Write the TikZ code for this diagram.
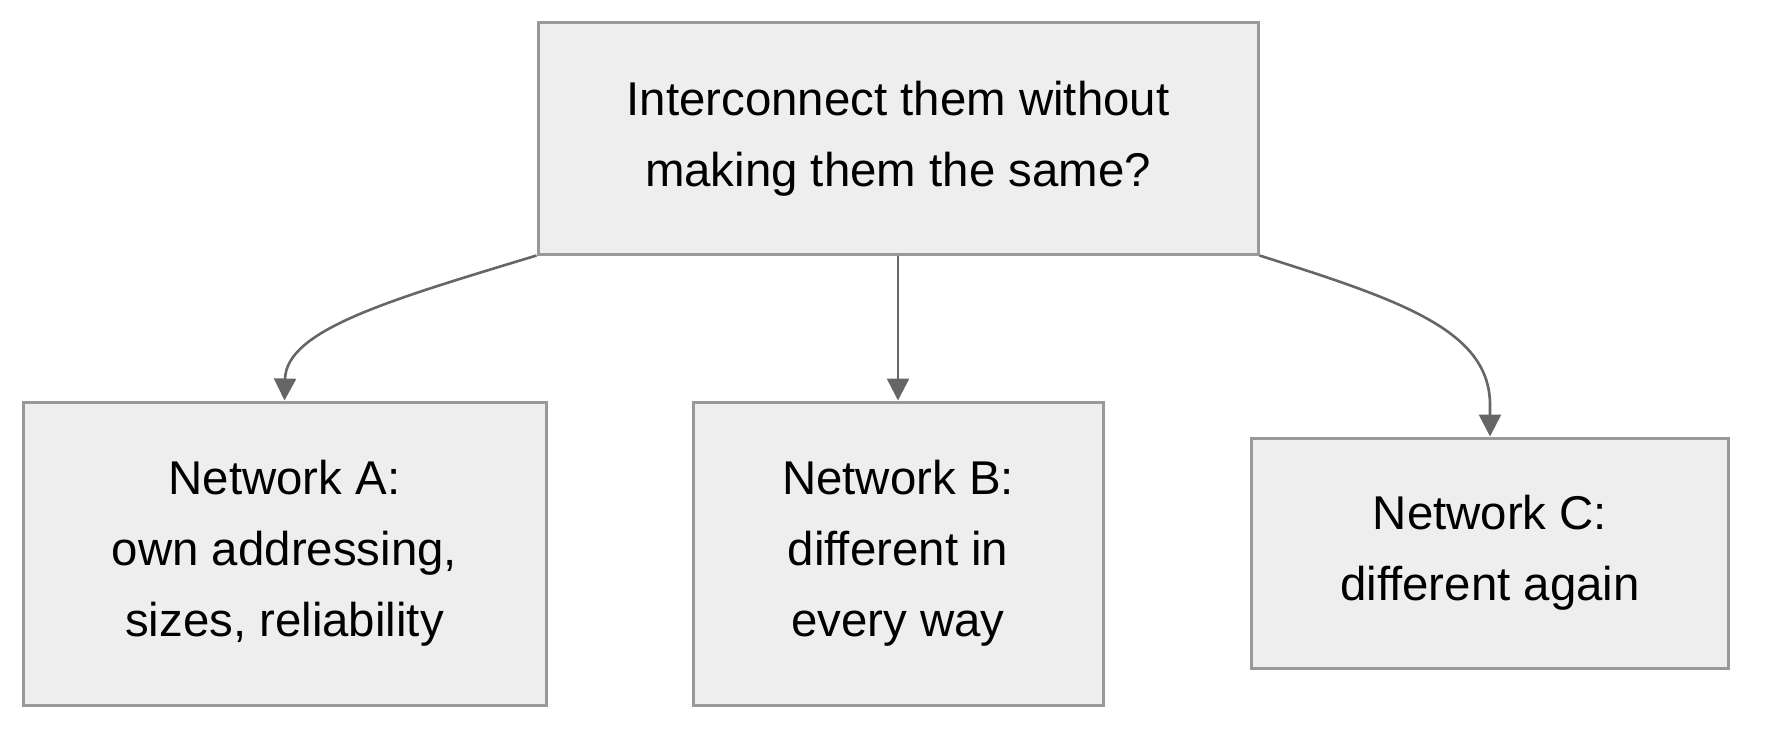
\documentclass[tikz,border=0pt]{standalone}
\usepackage{fontspec}
\setmainfont{Liberation Sans}
\usetikzlibrary{arrows.meta}
\definecolor{boxfill}{HTML}{EEEEEE}
\definecolor{boxline}{HTML}{999999}
\definecolor{linkline}{HTML}{666666}
\begin{document}
\begin{tikzpicture}[x=0.5pt, y=-0.5pt,
  netbox/.style={draw=boxline, fill=boxfill, line width=1.5pt, align=center,
    inner sep=0pt, font=\fontsize{23.7}{35.5}\selectfont},
  link/.style={draw=linkline, line width=1.3pt, -{Triangle[length=11pt, width=11pt]}}]
  \useasboundingbox (0,0) rectangle (1776,738);
  \node [netbox, minimum width=360pt, minimum height=115.5pt] (goal) at (898,138.5)
    {Interconnect them without\\making them the same?};
  \node [netbox, minimum width=261.5pt, minimum height=151.5pt] (netA) at (284.5,553.5)
    {Network A:\\own addressing,\\sizes, reliability};
  \node [netbox, minimum width=205pt, minimum height=151.5pt] (netB) at (898,553.5)
    {Network B:\\different in\\every way};
  \node [netbox, minimum width=238.5pt, minimum height=115pt] (netC) at (1490,553)
    {Network C:\\different again};
  % links
  \draw [link] (goal.south west) .. controls (390,300) and (285,330) .. (285,380) -- (netA.north);
  \draw [link] (goal.south) -- (netB.north);
  \draw [link] (goal.south east) .. controls (1400,300) and (1490,330) .. (1490,405) -- (netC.north);
\end{tikzpicture}
\end{document}
